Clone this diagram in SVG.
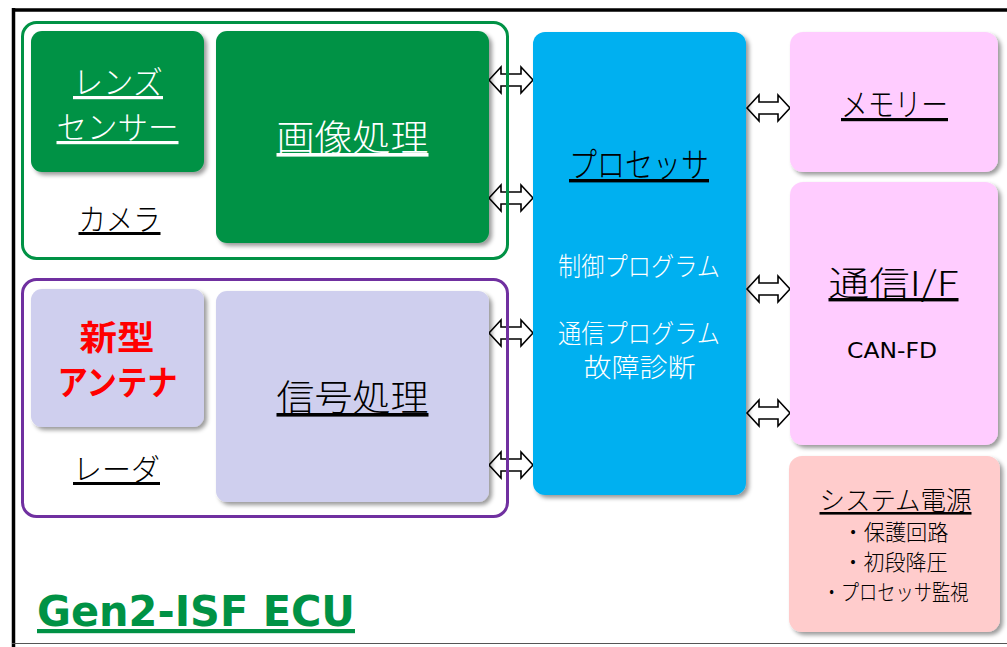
<svg xmlns="http://www.w3.org/2000/svg" width="1007" height="647" viewBox="0 0 1007 647">
<defs>
<filter id="sh" x="-10%" y="-10%" width="130%" height="130%">
<feDropShadow dx="3" dy="3" stdDeviation="2.2" flood-color="#000" flood-opacity="0.4"/>
</filter>
<style>
.jp{font-family:"Noto Sans CJK JP","Noto Sans",sans-serif;text-anchor:middle;font-weight:300}
.u{text-decoration:underline}
.w{fill:#fff}
.k{fill:#000}
.arr{fill:#fff;stroke:#000;stroke-width:1.6;stroke-linejoin:miter}
.box{filter:url(#sh)}
</style>
</defs>
<rect x="0" y="0" width="1007" height="647" fill="#fff"/>
<g id="frame">
<line x1="13.5" y1="8" x2="13.5" y2="647" stroke="#000" stroke-width="3.5"/>
<line x1="12" y1="10" x2="1007" y2="10" stroke="#000" stroke-width="3.5"/>
<line x1="12" y1="643.5" x2="1007" y2="643.5" stroke="#555" stroke-width="1.2"/>
</g>
<g id="connectors">
<path class="arr" d="M489,80 l12,-13 v7 h20 v-7 l12,13 l-12,13 v-7 h-20 v7 z"/>
<path class="arr" d="M489,198 l12,-13 v7 h20 v-7 l12,13 l-12,13 v-7 h-20 v7 z"/>
<path class="arr" d="M489,333 l12,-13 v7 h20 v-7 l12,13 l-12,13 v-7 h-20 v7 z"/>
<path class="arr" d="M489,465 l12,-13 v7 h20 v-7 l12,13 l-12,13 v-7 h-20 v7 z"/>
<path class="arr" d="M747,108 l12,-13 v7 h19 v-7 l12,13 l-12,13 v-7 h-19 v7 z"/>
<path class="arr" d="M747,289 l12,-13 v7 h19 v-7 l12,13 l-12,13 v-7 h-19 v7 z"/>
<path class="arr" d="M747,413 l12,-13 v7 h19 v-7 l12,13 l-12,13 v-7 h-19 v7 z"/>
</g>
<g id="camera">
<rect x="22.5" y="22.5" width="485" height="236" rx="14" fill="none" stroke="#009245" stroke-width="3"/>
<text class="jp u k" x="119.5" y="230" font-size="30" textLength="82" lengthAdjust="spacingAndGlyphs">カメラ</text>
</g>
<g id="lens-sensor">
<rect class="box" x="31" y="31" width="173" height="141" rx="11" fill="#009245"/>
<text class="jp u w" x="118" y="94" font-size="32" textLength="90" lengthAdjust="spacingAndGlyphs">レンズ</text>
<text class="jp u w" x="117.5" y="139" font-size="32" textLength="122" lengthAdjust="spacingAndGlyphs">センサー</text>
</g>
<g id="image-processing">
<rect class="box" x="216" y="31" width="273" height="212" rx="11" fill="#009245"/>
<text class="jp u w" x="352.5" y="151" font-size="36" textLength="152" lengthAdjust="spacingAndGlyphs">画像処理</text>
</g>
<g id="radar">
<rect x="22.5" y="279.5" width="485" height="237" rx="14" fill="none" stroke="#7030A0" stroke-width="3"/>
<text class="jp u k" x="116.5" y="480" font-size="30" textLength="87" lengthAdjust="spacingAndGlyphs">レーダ</text>
</g>
<g id="new-antenna">
<rect class="box" x="31" y="289" width="173" height="138" rx="11" fill="#CFCFEE"/>
<text class="jp" x="117" y="350" font-size="34" style="font-weight:bold" fill="#FF0000" textLength="75" lengthAdjust="spacingAndGlyphs">新型</text>
<text class="jp" x="117.5" y="395" font-size="34" style="font-weight:bold" fill="#FF0000" textLength="120" lengthAdjust="spacingAndGlyphs">アンテナ</text>
</g>
<g id="signal-processing">
<rect class="box" x="216" y="291" width="273" height="211" rx="11" fill="#CFCFEE"/>
<text class="jp u k" x="352.5" y="411" font-size="36" textLength="152" lengthAdjust="spacingAndGlyphs">信号処理</text>
</g>
<g id="processor">
<rect class="box" x="533" y="32" width="213" height="463" rx="12" fill="#00B0F0"/>
<text class="jp u k" x="639" y="177" font-size="34" textLength="140" lengthAdjust="spacingAndGlyphs">プロセッサ</text>
<text class="jp w" x="639" y="276" font-size="26" textLength="162" lengthAdjust="spacingAndGlyphs">制御プログラム</text>
<text class="jp w" x="639" y="343" font-size="26" textLength="162" lengthAdjust="spacingAndGlyphs">通信プログラム</text>
<text class="jp w" x="639.5" y="377" font-size="26" textLength="112" lengthAdjust="spacingAndGlyphs">故障診断</text>
</g>
<g id="memory">
<rect class="box" x="790" y="32" width="208" height="140" rx="13" fill="#FFCCFF"/>
<text class="jp u k" x="894.5" y="116" font-size="32" textLength="107" lengthAdjust="spacingAndGlyphs">メモリー</text>
</g>
<g id="comm-if">
<rect class="box" x="790" y="182" width="208" height="263" rx="13" fill="#FFCCFF"/>
<text class="jp u k" x="893.5" y="296" font-size="34" textLength="130" lengthAdjust="spacingAndGlyphs">通信I/F</text>
<text x="892" y="358" font-family="DejaVu Sans, Verdana, sans-serif" font-size="21" text-anchor="middle" fill="#000" textLength="90" lengthAdjust="spacingAndGlyphs">CAN-FD</text>
</g>
<g id="system-power">
<rect class="box" x="789" y="456" width="211" height="176" rx="13" fill="#FFCCCC"/>
<text class="jp u k" x="895.5" y="510" font-size="26" textLength="152" lengthAdjust="spacingAndGlyphs">システム電源</text>
<text class="jp k" x="895.5" y="540" font-size="22" textLength="106" lengthAdjust="spacingAndGlyphs">・保護回路</text>
<text class="jp k" x="895" y="570" font-size="22" textLength="105" lengthAdjust="spacingAndGlyphs">・初段降圧</text>
<text class="jp k" x="895.5" y="600" font-size="22" textLength="146" lengthAdjust="spacingAndGlyphs">・プロセッサ監視</text>
</g>
<g id="title">
<text x="37" y="626" font-family="DejaVu Sans, Verdana, sans-serif" font-size="42" font-weight="bold" fill="#009245" text-decoration="underline" textLength="318" lengthAdjust="spacingAndGlyphs">Gen2-ISF ECU</text>
</g>
</svg>
